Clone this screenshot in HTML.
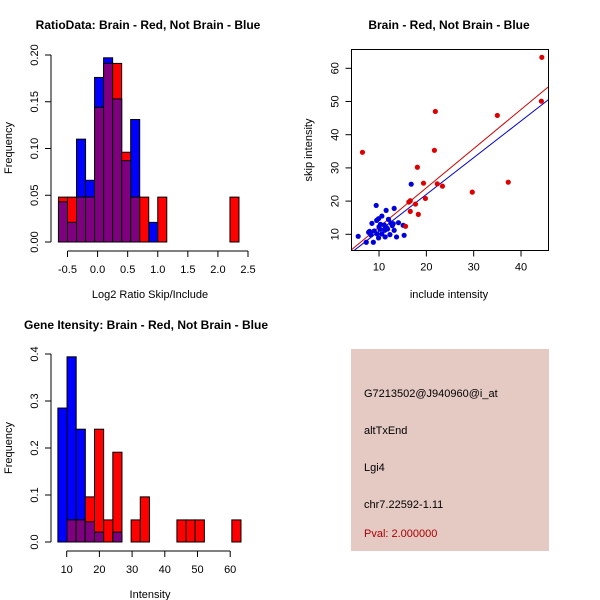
<!DOCTYPE html>
<html><head><meta charset="utf-8"><style>
body{margin:0;background:#fff}
svg{display:block;font-family:"Liberation Sans",sans-serif}
</style></head><body>
<svg id="s" width="600" height="600" viewBox="0 0 600 600">
<rect width="600" height="600" fill="#fff"/>
</svg>
<script>
// Ratio histogram
const ratioBins0 = -0.65, ratioBinW = 0.15;
const ratioBlue = [0.043,0.021,0.11,0.066,0.176,0.197,0.153,0.087,0.131,0,0.021,0,0,0,0,0,0,0,0,0];
const ratioRed  = [0.048,0.048,0.048,0.048,0.144,0.191,0.191,0.096,0.048,0.048,0,0.048,0,0,0,0,0,0,0,0.048];
const ratioXTicks = [-0.5,0.0,0.5,1.0,1.5,2.0,2.5];
const ratioXLabels = ["-0.5","0.0","0.5","1.0","1.5","2.0","2.5"];
const ratioYTicks = [0,0.05,0.10,0.15,0.20];
const ratioYLabels = ["0.00","0.05","0.10","0.15","0.20"];
// Intensity histogram
const intBin0 = 7.3, intBinW = 2.8;
const intBlue = [0.285,0.394,0.24,0.043,0.021,0,0.021,0,0,0,0,0,0,0,0,0,0,0,0,0];
const intRed  = [0,0.047,0.047,0.096,0.24,0.047,0.191,0,0.047,0.096,0,0,0,0.047,0.047,0.047,0,0,0,0.047];
const intXTicks = [10,20,30,40,50,60];
const intYTicks = [0,0.1,0.2,0.3,0.4];
const intYLabels = ["0.0","0.1","0.2","0.3","0.4"];
// Scatter
const redX = [44.4,44.3,35.0,21.9,21.7,6.5,18.1,19.4,22.3,23.4,19.8,29.7,37.3,17.7,16.3,16.6,16.6,18.3,15.6];
const redY = [63.3,50.1,45.8,47.0,35.3,34.7,30.2,25.4,25.2,24.5,20.8,22.7,25.7,19.1,19.7,20.1,16.9,16.0,12.4];
const blueX = [5.6,16.8,9.4,13.2,11.5,9.9,10.6,12.0,8.5,12.5,14.1,15.1,8.0,9.0,10.2,11.2,11.8,13.2,10.6,12.3,11.3,13.7,15.3,9.9,7.3,8.8,9.6,11.1,9.5,10.3,12.8,11.6,8.3,13.0,10.0,7.8];
const blueY = [9.4,25.1,18.7,17.8,17.2,14.7,15.5,14.5,13.3,13.4,13.5,12.7,10.9,11.0,11.5,11.2,11.6,11.2,10.1,9.9,9.2,9.2,9.7,8.9,7.6,7.6,10.1,12.8,14.2,13.0,12.6,12.0,9.8,13.2,12.3,10.6];
const redFit = [0.4,1.18], blueFit = [-0.1,1.106];
const scXTicks = [10,20,30,40], scYTicks = [10,20,30,40,50,60];

const S = document.getElementById('s'), NS = "http://www.w3.org/2000/svg";
function mk(tag, at, txt){const e=document.createElementNS(NS,tag);for(const k in at)e.setAttribute(k,at[k]);if(txt!==undefined)e.textContent=txt;S.appendChild(e);return e;}

function hist(o){
  const sx=v=>o.x0+(v-o.vx0)*o.kx, sy=v=>o.y0-v*o.ky;
  for(let i=0;i<o.blue.length;i++){
    const a=o.b0+i*o.bw, x=sx(a), w=o.bw*o.kx;
    const b=o.blue[i], r=o.red[i], m=Math.min(b,r);
    if(b>0){const e=mk('rect',{x:x,y:sy(b),width:w,height:b*o.ky,fill:'#0000ff',stroke:'#000','stroke-width':1});
      
      }
    if(r>0){const e=mk('rect',{x:x,y:sy(r),width:w,height:r*o.ky,fill:'#ff0000',stroke:'#000','stroke-width':1});
      
      }
    if(m>0){const e=mk('rect',{x:x,y:sy(m),width:w,height:m*o.ky,fill:'#7f007f',stroke:'#000','stroke-width':1});
      
      }
  }
  // x axis
  const xa=o.xt[0], xb=o.xt[o.xt.length-1], ay=o.y0+9;
  mk('line',{x1:sx(xa),x2:sx(xb),y1:ay,y2:ay,stroke:'#000'});
  o.xt.forEach((t,i)=>{mk('line',{x1:sx(t),x2:sx(t),y1:ay,y2:ay+6,stroke:'#000'});
    const e=mk('text',{x:sx(t),y:ay+22,'text-anchor':'middle','font-size':11},o.xl[i]);
    
    });
  // y axis
  const ax=o.yax;
  mk('line',{x1:ax,x2:ax,y1:sy(o.yt[0]),y2:sy(o.yt[o.yt.length-1]),stroke:'#000'});
  o.yt.forEach((t,i)=>{mk('line',{x1:ax,x2:ax-6,y1:sy(t),y2:sy(t),stroke:'#000'});
    const e=mk('text',{x:ax-13,y:sy(t),'text-anchor':'middle','font-size':11,transform:`rotate(-90 ${ax-13} ${sy(t)})`},o.yl[i]);
    
    });
}
hist({id:'ratio',x0:67.5,vx0:-0.5,kx:60.17,y0:242,ky:935,b0:ratioBins0,bw:ratioBinW,blue:ratioBlue,red:ratioRed,xt:ratioXTicks,xl:ratioXLabels,yt:ratioYTicks,yl:ratioYLabels,yax:51});
hist({id:'intensity',x0:66.7,vx0:10,kx:3.27,y0:542,ky:470,b0:intBin0,bw:intBinW,blue:intBlue,red:intRed,xt:intXTicks,xl:intXTicks.map(String),yt:intYTicks,yl:intYLabels,yax:51});

// Scatter
const px=v=>331.7+v*4.733, py=v=>267.5-v*3.32;
const L=351.5,R=548.5,T=49.5,B=250.5;
mk('defs',{}).innerHTML='<clipPath id="cp"><rect x="351.5" y="49.5" width="197" height="201"/></clipPath>';
[[blueFit,'#0000cc','blue-fit-line'],[redFit,'#cc0000','red-fit-line']].forEach(f=>{
  const e=mk('line',{x1:px(0),y1:py(f[0][0]),x2:px(50),y2:py(f[0][0]+f[0][1]*50),stroke:f[1],'stroke-width':1,'clip-path':'url(#cp)'});
  
  
});
blueX.forEach((x,i)=>{const e=mk('circle',{cx:px(x),cy:py(blueY[i]),r:2.6,fill:'#0000dd'});
  
  });
redX.forEach((x,i)=>{const e=mk('circle',{cx:px(x),cy:py(redY[i]),r:2.6,fill:'#dd0000'});
  
  });
mk('rect',{x:L,y:T,width:R-L,height:B-T,fill:'none',stroke:'#000'});
scXTicks.forEach(t=>{mk('line',{x1:px(t),x2:px(t),y1:B,y2:B+6,stroke:'#000'});
  const e=mk('text',{x:px(t),y:B+20,'text-anchor':'middle','font-size':11},String(t));
  
  });
scYTicks.forEach(t=>{mk('line',{x1:L,x2:L-6,y1:py(t),y2:py(t),stroke:'#000'});
  const e=mk('text',{x:L-13,y:py(t),'text-anchor':'middle','font-size':11,transform:`rotate(-90 ${L-13} ${py(t)})`},String(t));
  
  });
</script>
<svg width="0" height="0" style="position:absolute"></svg>
<div style="position:absolute;left:0;top:0;width:600px;height:600px;pointer-events:none">
<svg width="600" height="600" style="font-family:'Liberation Sans',sans-serif">
<text x="148" y="29" text-anchor="middle" font-size="12" font-weight="bold">RatioData: Brain - Red, Not Brain - Blue</text>
<text x="150" y="298" text-anchor="middle" font-size="11">Log2 Ratio Skip/Include</text>
<text x="12" y="148" text-anchor="middle" font-size="11" transform="rotate(-90 12 148)">Frequency</text>
<text x="449" y="29" text-anchor="middle" font-size="12" font-weight="bold">Brain - Red, Not Brain - Blue</text>
<text x="449" y="298" text-anchor="middle" font-size="11">include intensity</text>
<text x="312" y="150" text-anchor="middle" font-size="11" transform="rotate(-90 312 150)">skip intensity</text>
<text x="146" y="329" text-anchor="middle" font-size="12" font-weight="bold">Gene Itensity: Brain - Red, Not Brain - Blue</text>
<text x="150" y="598" text-anchor="middle" font-size="11">Intensity</text>
<text x="12" y="448" text-anchor="middle" font-size="11" transform="rotate(-90 12 448)">Frequency</text>
<g>
<rect x="351" y="349" width="198" height="202" fill="#e5c9c3"/>
<text x="364" y="397" font-size="11">G7213502@J940960@i_at</text>
<text x="364" y="434" font-size="11">altTxEnd</text>
<text x="364" y="471" font-size="11">Lgi4</text>
<text x="364" y="508" font-size="11">chr7.22592-1.11</text>
<text x="364" y="537" font-size="11" fill="#aa0000">Pval: 2.000000</text>
</g>
</svg></div>
</body></html>
